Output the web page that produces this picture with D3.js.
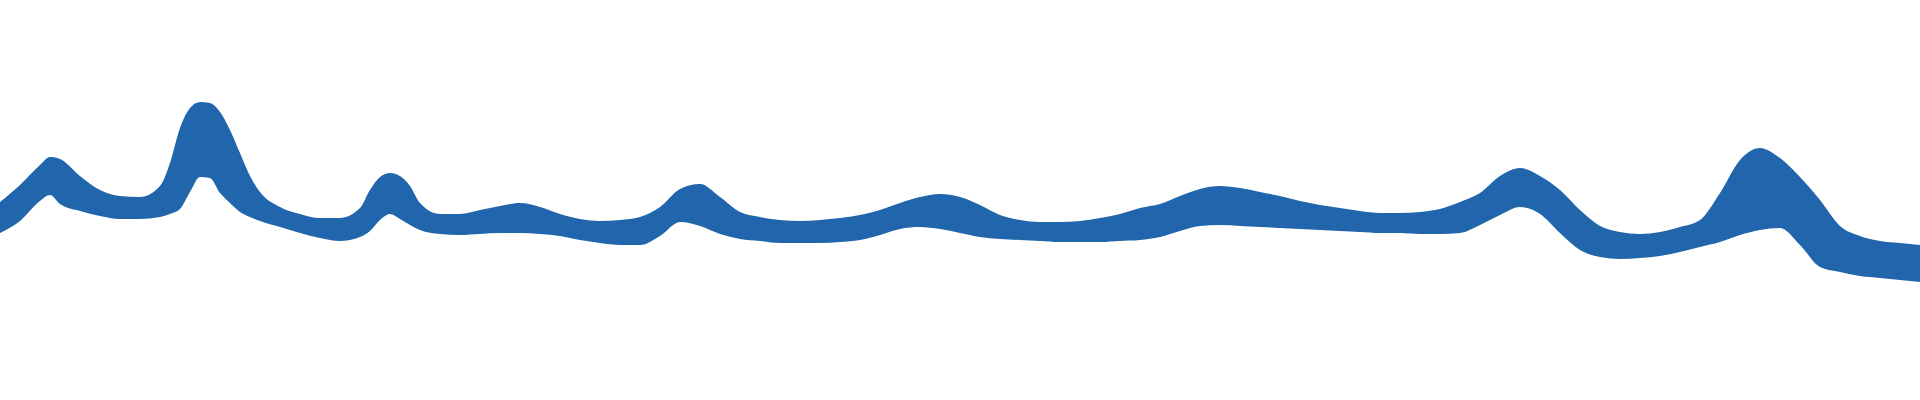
<!DOCTYPE html>
<html>
<head>
    <title>Stream</title>
    <script src="https://d3js.org/d3.v7.min.js"></script>
    <style>
        body { margin: 0; background: #fff; }
        #chart { display: block; }
    </style>
</head>
<body>
    <svg id="chart"></svg>
    <script>
        const width = 1920;
        const height = 400;

        // sample positions along the stream
        const steps = [
            0, 20, 40, 50, 60, 80, 100, 120, 140, 160, 170, 180, 190, 200, 210, 220, 230, 240, 250, 260,
            280, 300, 320, 340, 360, 370, 380, 390, 400, 410, 420, 440, 460, 480, 500, 520, 540, 560, 580, 600,
            620, 640, 660, 680, 700, 720, 740, 760, 780, 800, 820, 840, 860, 880, 900, 920, 940, 960, 980, 1000,
            1020, 1040, 1060, 1080, 1100, 1120, 1140, 1160, 1180, 1200, 1220, 1240, 1260, 1280, 1300, 1320, 1340, 1360, 1380, 1400,
            1420, 1440, 1460, 1480, 1500, 1520, 1540, 1560, 1580, 1600, 1620, 1640, 1660, 1680, 1700, 1720, 1740, 1760, 1780, 1800,
            1820, 1840, 1860, 1880, 1900, 1920
        ];

        // upper edge of the band (value, measured downward)
        const upper = [
            202, 185, 165, 157, 159, 176, 190, 196, 197, 186, 163, 128, 108, 102, 103, 112, 130, 153, 176, 192,
            207, 214, 218, 218, 208, 190, 177, 173, 176, 186, 203, 214, 214, 210, 206, 203, 207, 214, 219, 221,
            220, 217, 207, 189, 184, 197, 212, 217, 220, 221, 220, 218, 215, 210, 203, 197, 194, 197, 205, 215,
            220, 222, 222, 221, 218, 214, 208, 204, 196, 189, 186, 188, 192, 196, 201, 205, 208, 211, 213, 213,
            212, 209, 202, 193, 176, 168, 176, 190, 210, 226, 232, 234, 232, 227, 220, 193, 160, 148, 158, 177,
            200, 226, 236, 241, 243, 245
        ];

        // lower edge of the band
        const lower = [
            233, 221, 201, 195, 204, 211, 216, 219, 219, 217, 214, 209, 192, 177, 178, 193, 203, 212, 217, 221,
            227, 233, 238, 241, 237, 231, 220, 214, 219, 225, 230, 234, 235, 234, 233, 233, 234, 236, 240, 243,
            245, 245, 236, 222, 226, 234, 239, 241, 243, 243, 243, 242, 240, 235, 229, 227, 229, 233, 237, 239,
            240, 241, 242, 242, 242, 241, 240, 237, 231, 226, 225, 226, 227, 228, 229, 230, 231, 232, 233, 233,
            234, 234, 233, 225, 215, 207, 214, 233, 250, 257, 259, 258, 256, 252, 247, 242, 235, 230, 228, 245,
            267, 272, 276, 278, 280, 282
        ];

        const svg = d3.select("#chart")
            .attr("width", width)
            .attr("height", height);

        const x = d3.scaleLinear()
            .domain(d3.extent(steps))
            .range([0, width]);

        const y = d3.scaleLinear()
            .domain([0, height])
            .range([0, height]);

        const rows = steps.map((s, i) => ({ s: s, hi: upper[i], lo: lower[i] }));

        const area = d3.area()
            .curve(d3.curveMonotoneX)
            .x(d => x(d.s))
            .y0(d => y(d.lo))
            .y1(d => y(d.hi));

        svg.append("path")
            .datum(rows)
            .attr("d", area)
            .style("fill", "#2166ac");
    </script>
</body>
</html>
